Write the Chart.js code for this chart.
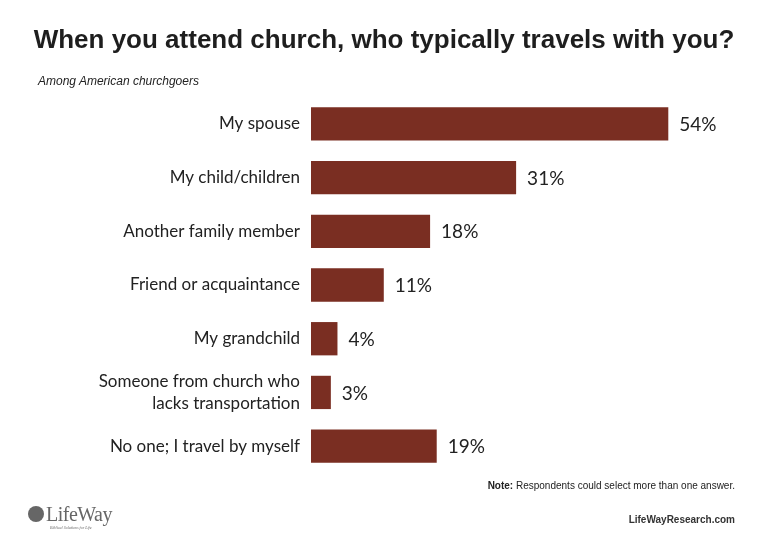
<!DOCTYPE html>
<html>
<head>
<meta charset="utf-8">
<script src="https://cdn.jsdelivr.net/npm/chart.js@4"></script>
<style>
    body { margin: 0; background: #fff; }
    #wrap { position: relative; width: 768px; height: 548px; overflow: hidden; }
    #chartBox { position: absolute; left: 0; top: 0; width: 768px; height: 548px; }
    .title { position: absolute; left: 0; width: 768px; top: 24px; text-align: center;
        font-family: "Liberation Sans", Arial, sans-serif; font-weight: bold;
        font-size: 26px; color: #1e1e1e; }
    .sub { position: absolute; left: 38px; top: 74px; font-family: "Liberation Sans", Arial, sans-serif;
        font-style: italic; font-size: 12px; color: #222; }
    .note { position: absolute; right: 33px; top: 480px; font-family: "Liberation Sans", Arial, sans-serif;
        font-size: 10px; color: #222; }
    .site { position: absolute; right: 33px; top: 514px; font-family: "Liberation Sans", Arial, sans-serif;
        font-weight: bold; font-size: 10px; color: #333; }
    .logo { position: absolute; left: 28px; top: 503px; font-family: "Liberation Serif", "DejaVu Serif", serif;
        color: #666; }
    .logo .name { font-size: 20px; letter-spacing: -0.5px; }
    .logo .tag { position: absolute; left: 22px; top: 22px; font-size: 4px; font-style: italic; white-space: nowrap; }
    .logo .dot { display: inline-block; width: 16px; height: 16px; border-radius: 50%; background: #666;
        vertical-align: -1px; margin-right: 2px; }
</style>
</head>
<body>
<div id="wrap">
    <div id="chartBox"><canvas id="barChart"></canvas></div>
    <div class="title">When you attend church, who typically travels with you?</div>
    <div class="sub">Among American churchgoers</div>
    <div class="note"><b>Note:</b> Respondents could select more than one answer.</div>
    <div class="logo"><span class="dot"></span><span class="name">LifeWay</span><span class="tag">Biblical Solutions for Life</span></div>
    <div class="site">LifeWayResearch.com</div>
</div>
<script>
// Data
const categories = [
    "My spouse",
    "My child/children",
    "Another family member",
    "Friend or acquaintance",
    "My grandchild",
    ["Someone from church who", "lacks transportation"],
    "No one; I travel by myself"
];
const percents = [54, 31, 18, 11, 4, 3, 19];

const BAR_COLOR = "#7a2e22";

// Value labels to the right of each bar
const valueLabels = {
    id: "valueLabels",
    afterDatasetsDraw(chart) {
        const ctx = chart.ctx;
        const meta = chart.getDatasetMeta(0);
        ctx.save();
        ctx.font = "19px Lato, sans-serif";
        ctx.fillStyle = "#222";
        ctx.textBaseline = "middle";
        meta.data.forEach((bar, i) => {
            ctx.fillText(percents[i] + "%", bar.x + 11, bar.y + 1);
        });
        ctx.restore();
    }
};

const ctx = document.getElementById("barChart").getContext("2d");

new Chart(ctx, {
    type: "bar",
    data: {
        labels: categories,
        datasets: [{
            data: percents,
            backgroundColor: BAR_COLOR,
            barPercentage: 0.62,
            categoryPercentage: 1.0
        }]
    },
    options: {
        indexAxis: "y",
        responsive: true,
        maintainAspectRatio: false,
        animation: false,
        layout: { padding: { left: 0, right: 60, top: 97, bottom: 75 } },
        plugins: {
            legend: { display: false },
            tooltip: { enabled: false }
        },
        scales: {
            x: {
                display: false,
                min: 0,
                max: 60
            },
            y: {
                afterFit(scale) { scale.width = 311; },
                grid: { display: false, drawTicks: false },
                border: { display: false },
                ticks: {
                    padding: 11,
                    color: "#222",
                    font: { family: "Lato, sans-serif", size: 17, lineHeight: 1.25 }
                }
            }
        }
    },
    plugins: [valueLabels]
});
</script>
</body>
</html>
